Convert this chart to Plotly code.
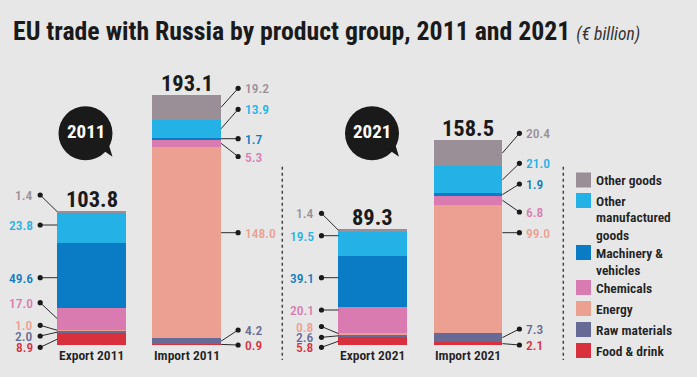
import plotly.graph_objects as go

# ---------------- data ----------------
groups = ["Food & drink", "Raw materials", "Energy", "Chemicals",
          "Machinery & vehicles", "Other manufactured goods", "Other goods"]
legend_lines = [["Food & drink"], ["Raw materials"], ["Energy"], ["Chemicals"],
                ["Machinery &", "vehicles"], ["Other", "manufactured", "goods"], ["Other goods"]]
colors = ["#d8303d", "#666a94", "#eba092", "#d97bb0", "#0a7cc5", "#23b1e6", "#9a8f96"]

bar_names = ["Export 2011", "Import 2011", "Export 2021", "Import 2021"]
export_2011 = [8.9, 2.0, 1.0, 17.0, 49.6, 23.8, 1.4]
import_2011 = [0.9, 4.2, 148.0, 5.3, 1.7, 13.9, 19.2]
export_2021 = [5.8, 2.6, 0.8, 20.1, 39.1, 19.5, 1.4]
import_2021 = [2.1, 7.3, 99.0, 6.8, 1.9, 21.0, 20.4]
totals = [103.8, 193.1, 89.3, 158.5]
years = ["2011", "2021"]
series = [export_2011, import_2011, export_2021, import_2021]

# ---------------- layout constants (pixels) ----------------
W, H = 697, 377
FONT = "Roboto Condensed, Open Sans Condensed, Liberation Sans, sans-serif"
BG = "#e7e7e7"
BASE_PX = 345.0
PX_PER_UNIT = 1.2947
TOP_PX = 30.0
BOTTOM_PX = 372.0
CAT_LABEL_PX = 354.5
CAT_PX = 95.3
BAR_FRAC = 0.72
panel_centers = [(91.5, 186.8), (372.8, 468.1)]
DOT_GAP = 17.0
TEXT_GAP = 5.0

label_y_px = [
    [347.3, 336.0, 325.3, 302.7, 277.7, 225.0, 195.0],
    [345.0, 330.0, 232.7, 156.5, 138.7, 109.3, 88.3],
    [347.3, 337.3, 326.5, 310.0, 277.7, 235.7, 213.3],
    [345.0, 329.0, 232.7, 212.0, 184.0, 163.3, 133.3],
]
legend_first_px = [350.5, 329.5, 308.5, 287.5, 252.5, 200.5, 180.0]
LEG_SW_X = 576.0
LEG_SW = 15.0
LEG_TXT_X = 594.0
LEG_LINE = 17.0
bubble_centers = [(85.5, 133.3), (372.0, 133.3)]
BUBBLE_R = 27.0


def py2d(py):
    return (BASE_PX - py) / PX_PER_UNIT


def pxp(px):
    return px / W


def pyp(py):
    return 1 - py / H


fig = go.Figure()
axes = ["x", "x2"]
for b, name in enumerate(bar_names):
    ax = axes[b // 2]
    for g, grp in enumerate(groups):
        fig.add_trace(go.Bar(
            x=[name], y=[series[b][g]], xaxis=ax, yaxis="y",
            marker=dict(color=colors[g], line=dict(width=0)),
            name=grp, showlegend=False, hoverinfo="skip"))

shapes = []
annotations = []

for b, name in enumerate(bar_names):
    idx = b % 2
    center_px = panel_centers[b // 2][idx]
    right = (idx == 1)
    half_px = BAR_FRAC * CAT_PX / 2
    sgn = 1 if right else -1
    edge_px = center_px + sgn * half_px
    dot_px = edge_px + sgn * DOT_GAP
    cum = 0.0
    for g in range(len(groups)):
        v = series[b][g]
        lo, hi = cum, cum + v
        cum = hi
        ly = py2d(label_y_px[b][g])
        if lo + 0.5 < ly < hi - 0.5:
            ay = ly
        else:
            ay = (lo + hi) / 2
        shapes.append(dict(type="line", xref="paper", yref="y", x0=pxp(edge_px), y0=ay,
                           x1=pxp(dot_px), y1=ly, line=dict(color="#2a2a2a", width=1)))
        shapes.append(dict(type="circle", xref="paper", yref="y", xsizemode="pixel",
                           ysizemode="pixel", xanchor=pxp(dot_px), yanchor=ly,
                           x0=-2.6, x1=2.6, y0=-2.6, y1=2.6,
                           fillcolor="#1a1a1a", line=dict(width=0)))
        annotations.append(dict(
            xref="paper", yref="y", x=pxp(dot_px + sgn * TEXT_GAP), y=ly,
            text=f"{v:.1f}", showarrow=False,
            xanchor="left" if right else "right", yanchor="middle",
            font=dict(family=FONT, size=13.5, color=colors[g], weight=500)))
    annotations.append(dict(
        xref="paper", yref="y", x=pxp(center_px), y=cum, text=f"<b>{totals[b]:.1f}</b>",
        showarrow=False, xanchor="center", yanchor="bottom", yshift=-3,
        font=dict(family=FONT, size=22.5, color="#1a1a1a")))
    annotations.append(dict(
        xref="paper", yref="paper", x=pxp(center_px), y=pyp(CAT_LABEL_PX), text=name,
        showarrow=False, xanchor="center", yanchor="middle",
        font=dict(family=FONT, size=13.5, color="#222222", weight=600)))

# speech bubbles
for (cx, cy), yr in zip(bubble_centers, years):
    shapes.append(dict(type="circle", xref="paper", yref="paper",
                       x0=pxp(cx - BUBBLE_R), x1=pxp(cx + BUBBLE_R),
                       y0=pyp(cy + BUBBLE_R), y1=pyp(cy - BUBBLE_R),
                       fillcolor="#1a1a1a", line=dict(width=0)))
    p = [(cx + 19, cy + 18), (cx + 27, cy + 23.5), (cx + 23.5, cy + 12)]
    path = "M {} {} L {} {} L {} {} Z".format(*[c for pt in p for c in (pxp(pt[0]), pyp(pt[1]))])
    shapes.append(dict(type="path", xref="paper", yref="paper", path=path,
                       fillcolor="#1a1a1a", line=dict(width=0)))
    annotations.append(dict(xref="paper", yref="paper", x=pxp(cx), y=pyp(cy - 2),
                            text=f"<b>{yr}</b>", showarrow=False,
                            xanchor="center", yanchor="middle",
                            font=dict(family=FONT, size=19, color="white")))

# dotted separators
for sx in (282.3, 563.3):
    shapes.append(dict(type="line", xref="paper", yref="paper",
                       x0=pxp(sx), x1=pxp(sx), y0=pyp(166.7), y1=pyp(360),
                       line=dict(color="#444444", width=1.5, dash="dot")))

# legend
for g in range(len(groups)):
    y0 = legend_first_px[g]
    shapes.append(dict(type="rect", xref="paper", yref="paper",
                       x0=pxp(LEG_SW_X), x1=pxp(LEG_SW_X + LEG_SW),
                       y0=pyp(y0 + LEG_SW / 2), y1=pyp(y0 - LEG_SW / 2),
                       fillcolor=colors[g], line=dict(width=0)))
    for k, line in enumerate(legend_lines[g]):
        annotations.append(dict(xref="paper", yref="paper", x=pxp(LEG_TXT_X),
                                y=pyp(y0 + k * LEG_LINE), text=line,
                                showarrow=False, xanchor="left", yanchor="middle",
                                font=dict(family=FONT, size=13.5, color="#222222", weight=600)))

# title
annotations.append(dict(
    xref="paper", yref="paper", x=pxp(11), y=pyp(31),
    text="<b>EU trade with Russia by product group, 2011 and 2021</b> "
         "<i><span style='font-size:17.5px;font-weight:normal;color:#333333'>(€ billion)</span></i>",
    showarrow=False, xanchor="left", yanchor="middle",
    font=dict(family=FONT, size=25.8, color="#1a1a1a")))

d1 = panel_centers[0]
d2 = panel_centers[1]
xcommon = dict(range=[-0.5, 1.5], type="category", anchor="y", automargin=False,
               showgrid=False, zeroline=False, showline=False, ticks="",
               showticklabels=False)
fig.update_layout(
    width=W, height=H, autosize=False,
    margin=dict(l=0, r=0, t=0, b=0),
    paper_bgcolor=BG, plot_bgcolor=BG,
    barmode="stack", bargap=1 - BAR_FRAC,
    showlegend=False,
    xaxis=dict(domain=[pxp(d1[0] - CAT_PX / 2), pxp(d1[1] + CAT_PX / 2)], **xcommon),
    xaxis2=dict(domain=[pxp(d2[0] - CAT_PX / 2), pxp(d2[1] + CAT_PX / 2)], **xcommon),
    yaxis=dict(domain=[pyp(BOTTOM_PX), pyp(TOP_PX)],
               range=[py2d(BOTTOM_PX), py2d(TOP_PX)], automargin=False,
               visible=False, showgrid=False, zeroline=False),
    shapes=shapes, annotations=annotations,
)

fig.write_html("out.html", config={"displayModeBar": False},
               post_script="document.body.style.margin='0';"
                           "document.body.style.background='" + BG + "';")
